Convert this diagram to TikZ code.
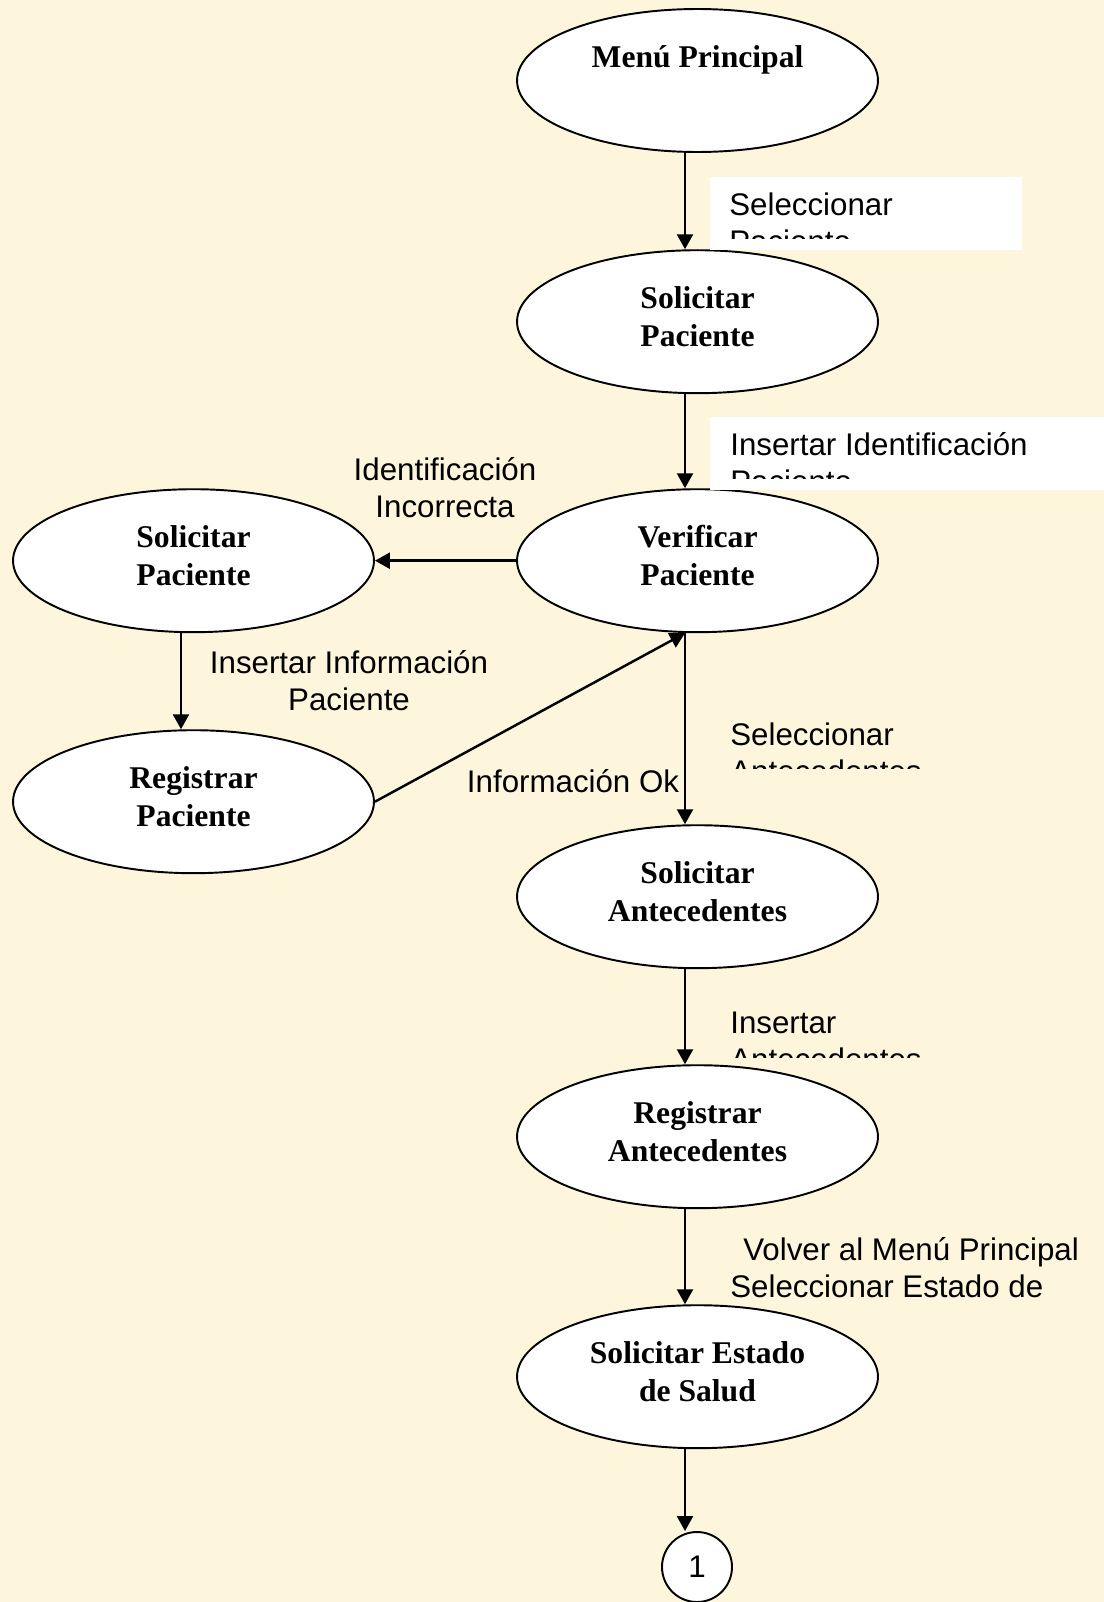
\documentclass[tikz,border=0pt]{standalone}
\usepackage{fontspec}
\setmainfont{Liberation Serif}
\newfontfamily\arial{Liberation Sans}
\usepackage{tikz}
\usetikzlibrary{shapes.geometric, arrows.meta}
\definecolor{papel}{RGB}{253,246,221}
\tikzset{estado/.style={ellipse, draw=black, fill=white, line width=1.1pt, minimum width=7.22cm, minimum height=2.86cm, inner sep=0pt, text depth=0.2cm, align=center, font=\fontsize{18}{21.5}\selectfont\bfseries},
  etiqueta/.style={inner sep=0pt, font=\arial\fontsize{17.8}{21}\selectfont},
  flecha/.style={line width=1.4pt, -{Triangle[length=3mm, width=3.2mm]}}}

\begin{document}
\begin{tikzpicture}[x=0.02cm, y=-0.02cm]
  \fill[papel] (0,0) rectangle (1104,1602);
  \useasboundingbox (0,0) rectangle (1104,1602);
  \coordinate (eje) at (685,0);
  \coordinate (ejeb) at (181,0);

  % estados
  \node[estado] (menu) at (697.5,80.5) {Menú Principal\\ \mbox{}};
  \node[estado] (solpac) at (697.5,321.7) {Solicitar\\Paciente};
  \node[estado] (verpac) at (697.5,560.7) {Verificar\\Paciente};
  \node[estado] (solpacb) at (193.5,560.7) {Solicitar\\Paciente};
  \node[estado] (regpac) at (193.5,801.7) {Registrar\\Paciente};
  \node[estado] (solant) at (697.5,896.7) {Solicitar\\Antecedentes};
  \node[estado] (regant) at (697.5,1136.7) {Registrar\\Antecedentes};
  \node[estado] (solsal) at (697.5,1376.7) {Solicitar Estado\\de Salud};
  \node[circle, draw, fill=white, line width=1.1pt, minimum size=1.4cm, inner sep=0pt, font=\arial\fontsize{17.8}{21}\selectfont] (uno) at (697,1567) {1};

  % transiciones
  \draw[flecha] (menu.south -| eje) -- (solpac.north -| eje);
  \draw[flecha] (solpac.south -| eje) -- (verpac.north -| eje);
  \draw[flecha] (verpac.west) -- (solpacb.east);
  \draw[flecha] (solpacb.south -| ejeb) -- (regpac.north -| ejeb);
  \draw[flecha] (regpac.east) -- (verpac.south -| eje);
  \draw[flecha] (verpac.south -| eje) -- (solant.north -| eje);
  \draw[flecha] (solant.south -| eje) -- (regant.north -| eje);
  \draw[flecha] (regant.south -| eje) -- (solsal.north -| eje);
  \draw[flecha] (solsal.south -| eje) -- (uno.north -| eje);

  % etiquetas (base = ultima linea)
  \fill[white] (710,177) rectangle (1022,250);
  \begin{scope}
    \clip (710,177) rectangle (1022,238);
    \node[etiqueta, anchor=base west, align=left] (lselpac) at (729,252) {Seleccionar\\Paciente};
  \end{scope}
  \fill[white] (710,417) rectangle (1104,490);
  \begin{scope}
    \clip (710,417) rectangle (1104,478);
    \node[etiqueta, anchor=base west, align=left] (linsid) at (730,492.7) {Insertar Identificación\\Paciente};
  \end{scope}
  \begin{scope}
    \clip (710,690) rectangle (1104,768);
    \node[etiqueta, anchor=base west, align=left] (lselant) at (730,782) {Seleccionar\\Antecedentes};
  \end{scope}
  \begin{scope}
    \clip (710,980) rectangle (1104,1057);
    \node[etiqueta, anchor=base west, align=left] (linsant) at (730,1070) {Insertar\\Antecedentes};
  \end{scope}
  \node[etiqueta, anchor=base west, align=left] (lvolver) at (730,1297) {\hspace*{0.26cm}Volver al Menú Principal\\Seleccionar Estado de};
  \node[etiqueta, anchor=base, align=center] (lincorr) at (445,517) {Identificación\\Incorrecta};
  \node[etiqueta, anchor=base, align=center] (linsinf) at (349,710) {Insertar Información\\Paciente};
  \node[etiqueta, anchor=base] (lok) at (573,792) {Información Ok};
\end{tikzpicture}
\end{document}
